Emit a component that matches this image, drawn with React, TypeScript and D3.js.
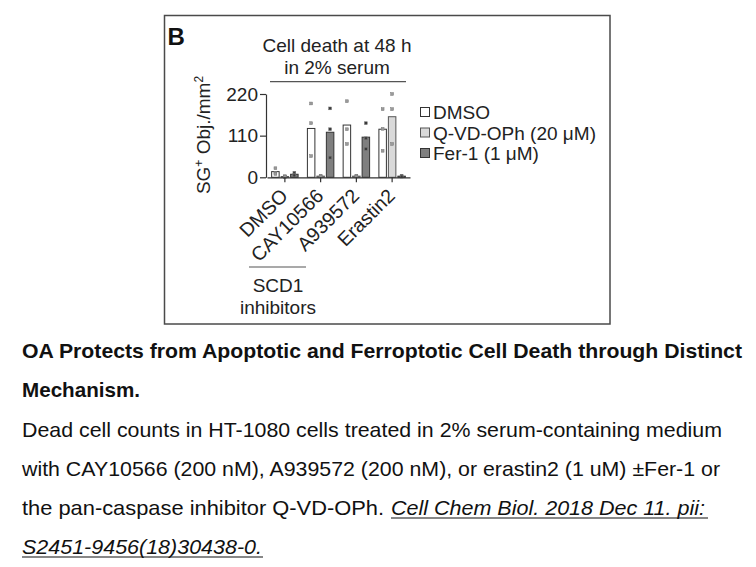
import React, { useEffect, useRef } from "react";
import * as d3 from "d3";

// groups on the x axis and the three treatments
const groups = ["DMSO", "CAY10566", "A939572", "Erastin2"];
const treatments = ["DMSO", "Q-VD-OPh (20 μM)", "Fer-1 (1 μM)"];

// bar heights (mean SG+ objects / mm2), one value per group
const dmsoMeans = [15, 129, 138, 127];
const qvdMeans = [2, 3, 3, 160];
const fer1Means = [8, 119, 106, 3];

// replicate points, three per bar
const dmsoReps = [[24, 12, 9], [195, 143, 56], [201, 127, 88], [180, 128, 70]];
const qvdReps = [[2, 3, 1], [3, 4, 2], [3, 4, 2], [220, 180, 88]];
const fer1Reps = [[12, 6, 5], [182, 127, 52], [143, 103, 75], [4, 3, 2]];

const yTicks = [0, 110, 220];

const FONT = "'Liberation Sans', Arial, Helvetica, sans-serif";

const BarChart = () => {
    const ref = useRef<SVGSVGElement>(null);

    useEffect(() => {
        const svg = d3.select(ref.current);
        svg.selectAll("*").remove();

        const fills = ["#ffffff", "#d9d9d9", "#7f7f7f"];
        const strokes = ["#333333", "#555555", "#333333"];
        const dotFill = ["#9a9a9a", "#9a9a9a", "#3a3a3a"];
        const means = [dmsoMeans, qvdMeans, fer1Means];
        const reps = [dmsoReps, qvdReps, fer1Reps];

        svg.append("rect").attr("width", 756).attr("height", 567).attr("fill", "#fff");

        // panel frame
        svg.append("rect")
            .attr("x", 164.5).attr("y", 15.5)
            .attr("width", 445.5).attr("height", 308.5)
            .attr("fill", "none").attr("stroke", "#4a4a4a").attr("stroke-width", 1.5);

        svg.append("text")
            .attr("x", 167.5).attr("y", 45)
            .attr("font-family", FONT).attr("font-weight", "bold").attr("font-size", 24)
            .attr("fill", "#111")
            .text("B");

        const x0 = d3.scaleBand<string>()
            .domain(groups)
            .range([267, 410])
            .paddingInner(0.26)
            .paddingOuter(0.13);

        const x1 = d3.scaleBand<number>()
            .domain([0, 1, 2])
            .range([0, x0.bandwidth()])
            .paddingInner(0.21)
            .paddingOuter(0);

        const y = d3.scaleLinear()
            .domain([0, 220])
            .range([177.3, 94]);

        // bars
        const g = svg.append("g");
        groups.forEach((grp, gi) => {
            [0, 1, 2].forEach(ti => {
                const v = means[ti][gi];
                g.append("rect")
                    .attr("x", x0(grp)! + x1(ti)!)
                    .attr("y", y(v))
                    .attr("width", x1.bandwidth())
                    .attr("height", y(0) - y(v))
                    .attr("fill", fills[ti])
                    .attr("stroke", strokes[ti])
                    .attr("stroke-width", 1);
            });
        });

        // replicate points
        groups.forEach((grp, gi) => {
            [0, 1, 2].forEach(ti => {
                const cx = x0(grp)! + x1(ti)! + x1.bandwidth() / 2;
                reps[ti][gi].forEach(v => {
                    g.append("rect")
                        .attr("x", cx - 1.4)
                        .attr("y", y(v) - 1.4)
                        .attr("width", 2.8)
                        .attr("height", 2.8)
                        .attr("fill", dotFill[ti])
                        .attr("stroke", "#777")
                        .attr("stroke-width", 0.5);
                });
            });
        });

        // y axis
        const yAxis = svg.append("g")
            .attr("transform", "translate(266,0)")
            .call(d3.axisLeft(y).tickValues(yTicks).tickSize(6).tickSizeOuter(0).tickPadding(2));
        yAxis.selectAll("path, line").attr("stroke", "#333").attr("stroke-width", 1.2);
        yAxis.selectAll("text")
            .attr("font-family", FONT).attr("font-size", 19).attr("fill", "#222");

        // x axis
        const xAxis = svg.append("g")
            .attr("transform", `translate(0,${y(0)})`)
            .call(d3.axisBottom(x0).tickSize(5).tickSizeOuter(0).tickFormat(() => ""));
        xAxis.selectAll("path, line").attr("stroke", "#333").attr("stroke-width", 1.2);

        // rotated category labels
        groups.forEach(grp => {
            const cx = x0(grp)! + x0.bandwidth() / 2;
            svg.append("text")
                .attr("transform", `translate(${cx + 4},197) rotate(-45)`)
                .attr("text-anchor", "end")
                .attr("font-family", FONT).attr("font-size", 19.5).attr("fill", "#222")
                .text(grp);
        });

        // y axis title
        const yt = svg.append("text")
            .attr("transform", "translate(210,135) rotate(-90)")
            .attr("text-anchor", "middle")
            .attr("font-family", FONT).attr("font-size", 19).attr("fill", "#222");
        yt.append("tspan").text("SG");
        yt.append("tspan").attr("dy", -7).attr("font-size", 12).text("+");
        yt.append("tspan").attr("dy", 7).text(" Obj./mm");
        yt.append("tspan").attr("dy", -7).attr("font-size", 12).text("2");

        // chart heading with rule
        ["Cell death at 48 h", "in 2% serum"].forEach((t, i) => {
            svg.append("text")
                .attr("x", 337).attr("y", 52 + i * 22)
                .attr("text-anchor", "middle")
                .attr("font-family", FONT).attr("font-size", 19).attr("fill", "#222")
                .text(t);
        });
        svg.append("line")
            .attr("x1", 270).attr("x2", 406).attr("y1", 81.7).attr("y2", 81.7)
            .attr("stroke", "#555").attr("stroke-width", 1.2);

        // SCD1 inhibitors bracket
        svg.append("line")
            .attr("x1", 249).attr("x2", 306).attr("y1", 267).attr("y2", 267)
            .attr("stroke", "#555").attr("stroke-width", 1.2);
        ["SCD1", "inhibitors"].forEach((t, i) => {
            svg.append("text")
                .attr("x", 278).attr("y", 292 + i * 22)
                .attr("text-anchor", "middle")
                .attr("font-family", FONT).attr("font-size", 19).attr("fill", "#222")
                .text(t);
        });

        // legend
        const legend = svg.append("g");
        treatments.forEach((t, i) => {
            const cy = 112 + i * 20.5;
            legend.append("rect")
                .attr("x", 420.5).attr("y", cy - 4.5)
                .attr("width", 9).attr("height", 9)
                .attr("fill", fills[i]).attr("stroke", strokes[i]).attr("stroke-width", 1);
            legend.append("text")
                .attr("x", 433).attr("y", cy + 7)
                .attr("font-family", FONT).attr("font-size", 19).attr("fill", "#222")
                .text(t);
        });

        // caption below the panel
        const cap = svg.append("g").attr("font-family", FONT).attr("fill", "#111");
        cap.append("text")
            .attr("x", 22).attr("y", 358)
            .attr("font-weight", "bold").attr("font-size", 21)
            .attr("textLength", 720).attr("lengthAdjust", "spacingAndGlyphs")
            .text("OA Protects from Apoptotic and Ferroptotic Cell Death through Distinct");
        cap.append("text")
            .attr("x", 22).attr("y", 397)
            .attr("font-weight", "bold").attr("font-size", 21)
            .attr("textLength", 118).attr("lengthAdjust", "spacingAndGlyphs")
            .text("Mechanism.");
        cap.append("text")
            .attr("x", 22).attr("y", 437).attr("font-size", 21)
            .attr("textLength", 700).attr("lengthAdjust", "spacingAndGlyphs")
            .text("Dead cell counts in HT-1080 cells treated in 2% serum-containing medium");
        cap.append("text")
            .attr("x", 22).attr("y", 476).attr("font-size", 21)
            .attr("textLength", 698).attr("lengthAdjust", "spacingAndGlyphs")
            .text("with CAY10566 (200 nM), A939572 (200 nM), or erastin2 (1 uM) ±Fer-1 or");
        cap.append("text")
            .attr("x", 22).attr("y", 515).attr("font-size", 21)
            .attr("textLength", 362).attr("lengthAdjust", "spacingAndGlyphs")
            .text("the pan-caspase inhibitor Q-VD-OPh.");
        cap.append("text")
            .attr("x", 391).attr("y", 515).attr("font-size", 21).attr("font-style", "italic")
            .attr("textLength", 314).attr("lengthAdjust", "spacingAndGlyphs")
            .text("Cell Chem Biol. 2018 Dec 11. pii:");
        cap.append("line")
            .attr("x1", 391).attr("x2", 708).attr("y1", 518).attr("y2", 518)
            .attr("stroke", "#111").attr("stroke-width", 1.2);
        cap.append("text")
            .attr("x", 22).attr("y", 554).attr("font-size", 21).attr("font-style", "italic")
            .attr("textLength", 240).attr("lengthAdjust", "spacingAndGlyphs")
            .text("S2451-9456(18)30438-0.");
        cap.append("line")
            .attr("x1", 22).attr("x2", 263).attr("y1", 557).attr("y2", 557)
            .attr("stroke", "#111").attr("stroke-width", 1.2);
    });

    return (
        <svg ref={ref} width={756} height={567}
            style={{ position: "absolute", left: 0, top: 0, display: "block" }} />
    );
};

export default function App() {
    return <BarChart />;
}
